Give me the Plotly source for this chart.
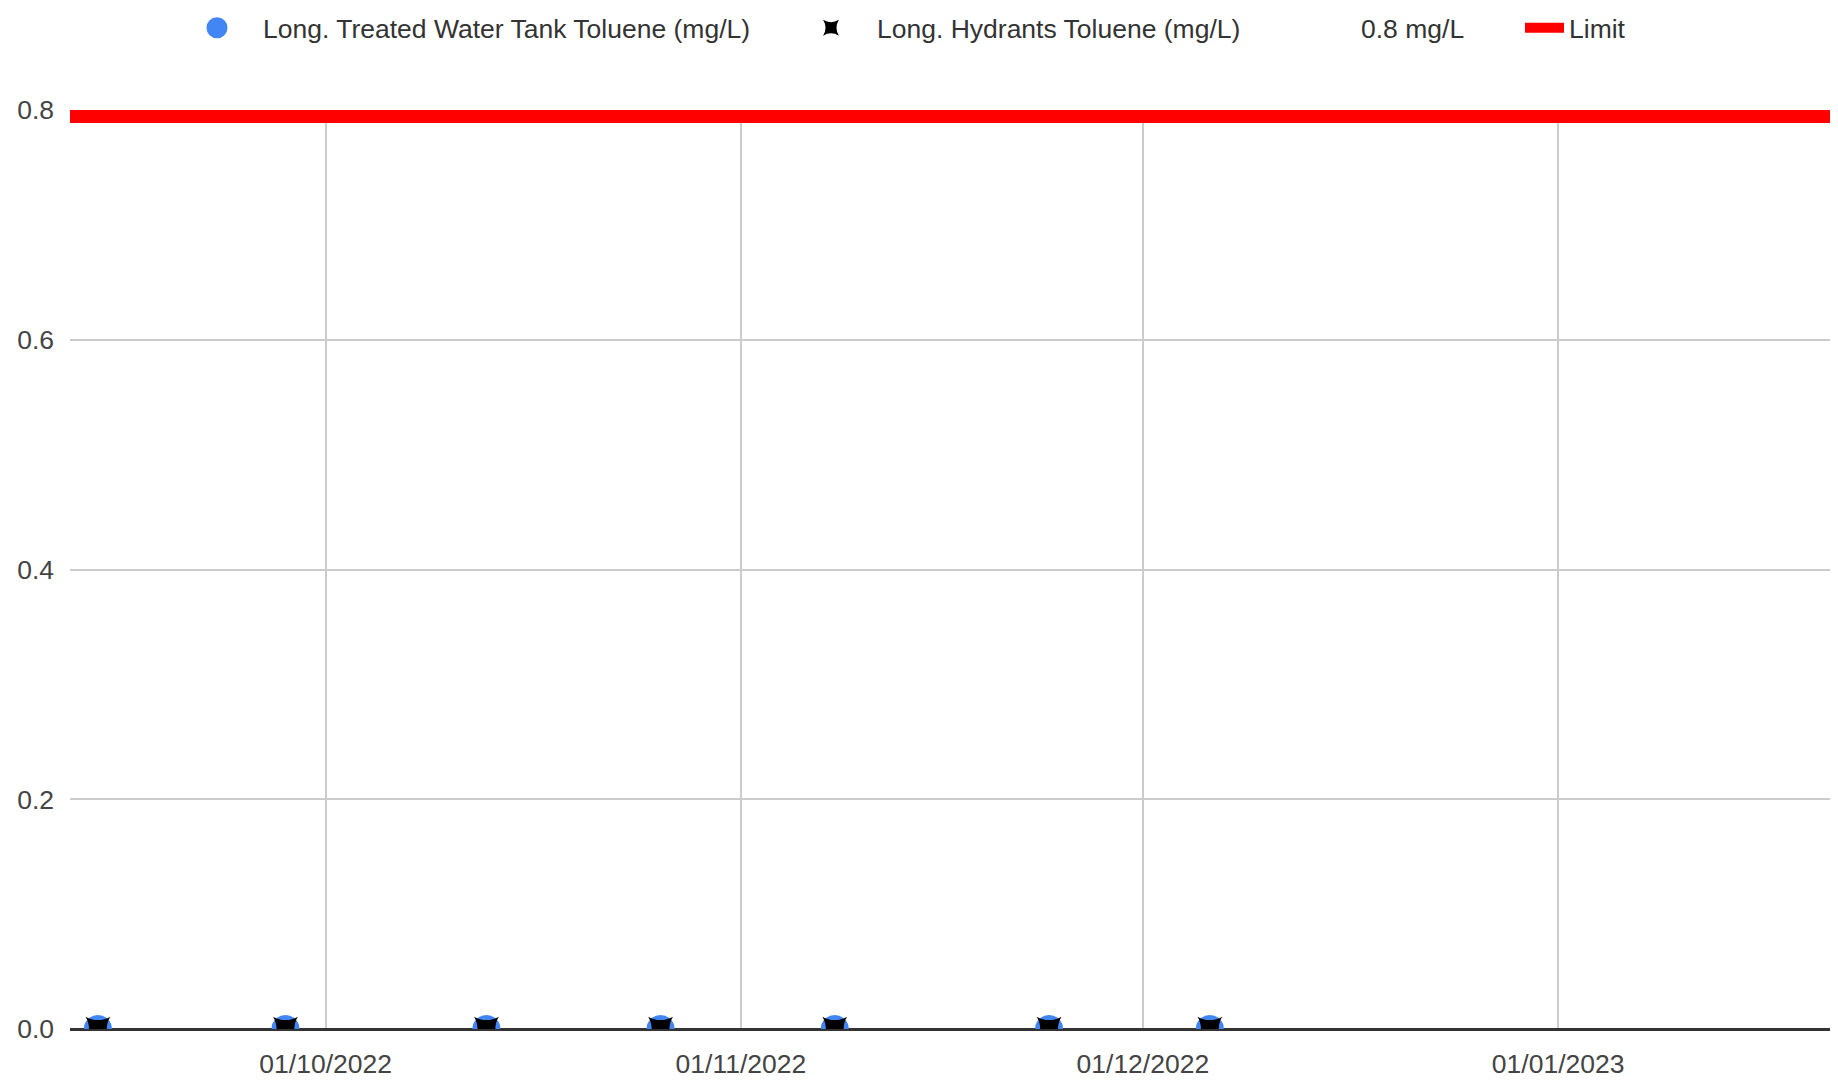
import plotly.graph_objects as go

# ---- data ----
sample_dates = ["2022-09-14", "2022-09-28", "2022-10-13", "2022-10-26",
                "2022-11-08", "2022-11-24", "2022-12-06"]
tank_toluene = [0, 0, 0, 0, 0, 0, 0]
hydrants_toluene = [0, 0, 0, 0, 0, 0, 0]
x_range = ["2022-09-11 22:00", "2023-01-21 07:00"]
limit_dates = x_range
limit_values = [0.8, 0.8]
y_ticks = [0.0, 0.2, 0.4, 0.6, 0.8]
x_ticks = ["2022-10-01", "2022-11-01", "2022-12-01", "2023-01-01"]
x_tick_labels = ["01/10/2022", "01/11/2022", "01/12/2022", "01/01/2023"]

FONT = "Liberation Sans"
FS = 26.5
W, H = 1822, 1070  # page body has an 8px margin

fig = go.Figure()
fig.add_trace(go.Scatter(
    x=sample_dates, y=tank_toluene, mode="markers",
    name="Long. Treated Water Tank Toluene (mg/L)", legend="legend",
    marker=dict(symbol="circle", size=23, color="#4285F4",
                line=dict(color="#4285F4", width=5)),
))
fig.add_trace(go.Scatter(
    x=sample_dates, y=hydrants_toluene, mode="markers",
    name="Long. Hydrants Toluene (mg/L)", legend="legend2",
    marker=dict(symbol="star-diamond", size=25, color="#000000", angle=45),
))
fig.add_trace(go.Scatter(
    x=[None], y=[None], mode="lines",
    name="0.8 mg/L", legend="legend3",
    line=dict(color="rgba(0,0,0,0)", width=0),
))
fig.add_trace(go.Scatter(
    x=limit_dates, y=limit_values, mode="lines",
    name="Limit", legend="legend4",
    line=dict(color="#FF0000", width=26),
))


def leg(left_px, itemwidth=82):
    return dict(
        orientation="h", xref="container", yref="container",
        x=left_px / W, xanchor="left", y=1 - 20 / H, yanchor="middle",
        itemwidth=itemwidth, font=dict(family=FONT, size=FS, color="#333333"),
        bgcolor="rgba(0,0,0,0)",
    )


fig.update_layout(
    width=W, height=H,
    margin=dict(l=62, r=0, t=102, b=49, autoexpand=False),
    paper_bgcolor="white", plot_bgcolor="white",
    font=dict(family=FONT, size=FS, color="#444444"),
    showlegend=True,
    legend=leg(163), legend2=leg(777), legend3=leg(1261),
    legend4=leg(1512, itemwidth=39),
    xaxis=dict(
        type="date", range=x_range,
        tickvals=x_ticks, ticktext=x_tick_labels,
        showgrid=True, gridcolor="#cccccc", gridwidth=2,
        zeroline=False, showline=False, ticks="",
        ticklabelstandoff=16, automargin=False,
        tickfont=dict(family=FONT, size=FS, color="#444444"),
    ),
    yaxis=dict(
        range=[0, 0.8], tickvals=y_ticks, tickformat=".1f",
        showgrid=True, gridcolor="#cccccc", gridwidth=2,
        zeroline=True, zerolinecolor="#333333", zerolinewidth=3,
        showline=False, ticks="",
        ticklabelstandoff=15, automargin=False,
        tickfont=dict(family=FONT, size=FS, color="#444444"),
    ),
)

fig.write_html("out.html")
